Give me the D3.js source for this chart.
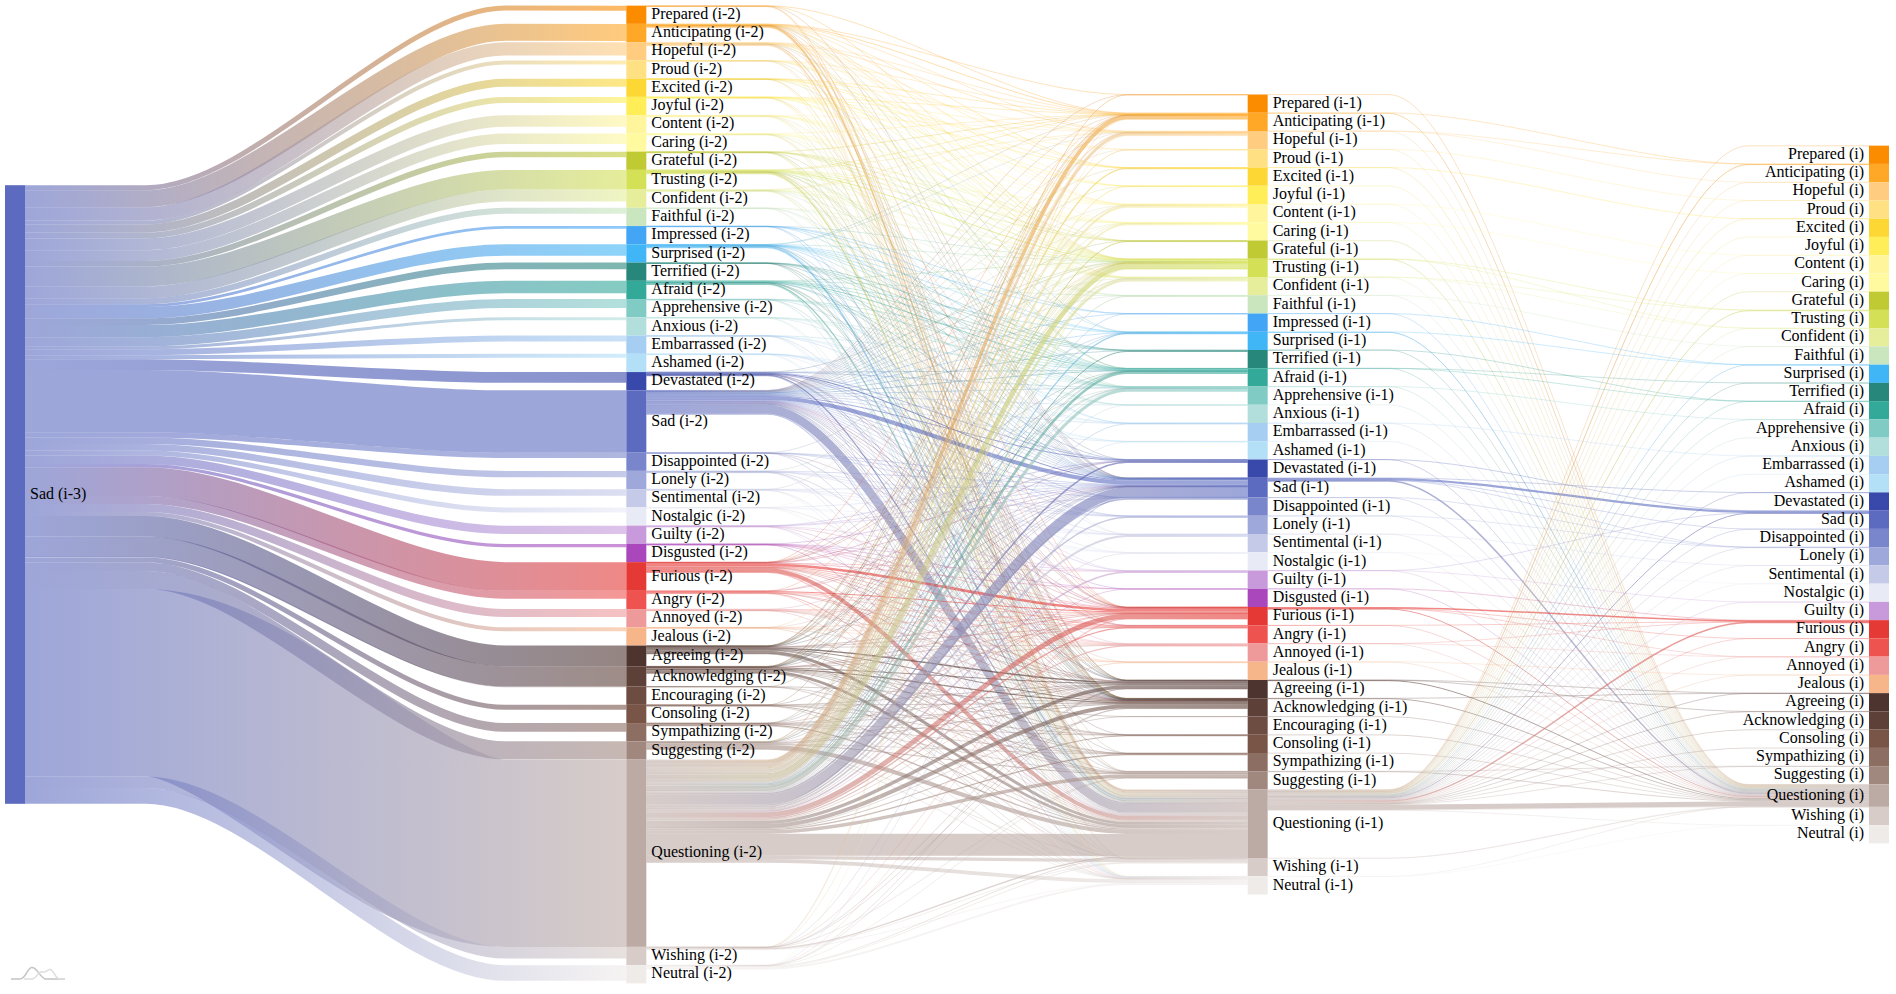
<!DOCTYPE html>
<html><head><meta charset="utf-8">
<script src="https://cdn.jsdelivr.net/npm/d3@7"></script>
<style>html,body{margin:0;padding:0;background:#fff}svg{display:block}text{font-family:"Liberation Serif","Times New Roman",serif;font-size:16px;fill:#000}</style>
</head><body><svg id="c" width="1896" height="994"></svg>
<script>
const codes = ["Pre","Ant","Hop","Pro","Exc","Joy","Cnt","Car","Gra","Tru","Cnf","Fai","Imp","Sur","Ter","Afr","App","Anx","Emb","Ash","Dev","Sad","Dis","Lon","Sen","Nos","Gui","Dsg","Fur","Ang","Ann","Jea","Agr","Ack","Enc","Cns","Sym","Sug","Que","Wis","Neu"];
const emotions = ["Prepared","Anticipating","Hopeful","Proud","Excited","Joyful","Content","Caring","Grateful","Trusting","Confident","Faithful","Impressed","Surprised","Terrified","Afraid","Apprehensive","Anxious","Embarrassed","Ashamed","Devastated","Sad","Disappointed","Lonely","Sentimental","Nostalgic","Guilty","Disgusted","Furious","Angry","Annoyed","Jealous","Agreeing","Acknowledging","Encouraging","Consoling","Sympathizing","Suggesting","Questioning","Wishing","Neutral"];
const colors = ["#FB8C00","#FFA726","#FFCC80","#FFE082","#FDD835","#FFEE58","#FFF59D","#FFF9A0","#C0CA33","#D4E157","#E6EE9C","#C9E6BE","#42A5F5","#40B6F7","#26877A","#33A99A","#80CBC4","#B2DFDB","#A5CEF2","#B3E0F7","#3949AB","#5C6BC0","#7986CB","#9FA8DA","#C5CAE9","#E8EAF6","#C89ADB","#AB47BC","#E53935","#EF5350","#EF9A9A","#F7B68A","#4E342E","#5D4037","#6D4C41","#795548","#8D6E63","#A1887F","#BCAAA4","#D7CCC8","#EFEBE9"];
const columnNames = ["i-3","i-2","i-1","i"];
const missingLast = ["Imp","Enc","Dsg"];

// Sad (i-3) -> each emotion (i-2), same order as codes
const firstValues = [5,17,13.3,4,8,6,11.7,10.7,5.7,19.7,12,6,2.7,11.3,6.7,12.3,9,3,6,4,10.7,62.3,5.3,6.3,6.7,5,8.3,3.3,28.7,8,8,4,20.7,20.3,0.5,5,8.7,18,187.3,11.7,15.7];

// (i-2) -> (i-1)
const midPre={Ant:.3,Tru:.1,Sad:.1,Que:.4,Wis:.1};
const midAnt={Pre:.1,Ant:.6,Hop:.15,Exc:.1,Cnt:.1,Tru:.2,Cnf:.15,Sur:.1,Afr:.1,Sad:.1,Fur:.1,Agr:.1,Ack:.1,Sug:.1,Que:1.4,Neu:.1};
const midHop={Ant:.35,Hop:.7,Exc:.1,Joy:.1,Cnt:.1,Car:.1,Tru:.15,Cnf:.15,Afr:.1,App:.1,Sad:.1,Agr:.1,Ack:.1,Que:1.1,Wis:.1,Neu:.1};
const midPro={Ant:.1,Pro:.15,Cnt:.1,Gra:.1,Tru:.1,Sad:.1,Ack:.1,Que:.4};
const midExc={Ant:.1,Hop:.1,Exc:.15,Joy:.1,Tru:.15,Sur:.1,Ack:.1,Que:.3};
const midJoy={Ant:.1,Hop:.1,Pro:.1,Exc:.1,Joy:.2,Cnt:.1,Tru:.1,Cnf:.1,Fur:.1,Ack:.1,Que:.5};
const midCnt={Hop:.1,Cnt:.3,Car:.1,Gra:.1,Tru:.2,Cnf:.1,Sad:.1,Nos:.1,Agr:.1,Que:.6,Neu:.1};
const midCar={Ant:.1,Cnt:.1,Car:.35,Tru:.2,Cnf:.1,App:.1,Sad:.1,Sen:.1,Ack:.1,Sym:.1,Que:.6};
const midGra={Ant:.1,Car:.1,Gra:.2,Tru:.2,Cnf:.1,Sad:.1,Ack:.1,Que:.4,Neu:.1};
const midTru={Ant:.15,Hop:.1,Cnt:.1,Car:.1,Gra:.1,Tru:.9,Cnf:.15,Fai:.15,Afr:.1,App:.1,Dev:.1,Sad:.1,Fur:.1,Agr:.15,Ack:.15,Sug:.1,Que:1.5,Neu:.1};
const midCnf={Ant:.1,Hop:.1,Car:.1,Tru:.25,Cnf:.35,Fai:.1,Afr:.1,Sad:.1,Ack:.1,Que:.8,Neu:.1};
const midFai={Tru:.15,Fai:.15,Sad:.1,Sen:.1,Que:.3,Neu:.05};
const midImp={Tru:.1,Imp:.1,Sur:.15,Afr:.1,Emb:.05,Ack:.1,Que:.3};
const midSur={Ant:.1,Hop:.1,Tru:.1,Imp:.1,Sur:.45,Ter:.1,Afr:.3,App:.1,Emb:.1,Sad:.1,Fur:.1,Agr:.1,Ack:.1,Sug:.1,Que:1.7,Neu:.1};
const midTer={Ter:.2,Afr:.25,App:.1,Anx:.05,Sad:.1,Fur:.05,Ack:.05,Que:.35};
const midAfr={Tru:.1,Fai:.1,Sur:.1,Ter:.3,Afr:.75,App:.25,Anx:.1,Dev:.1,Sad:.1,Fur:.1,Ang:.1,Agr:.1,Ack:.1,Que:1.3,Wis:.05,Neu:.1};
const midApp={Ter:.1,Afr:.25,App:.25,Sad:.1,Ack:.05,Que:.5};
const midAnx={Afr:.1,App:.2,Anx:.1,Sad:.1,Que:.3,Neu:.05};
const midEmb={Afr:.05,Emb:.15,Ash:.1,Sad:.1,Ack:.05,Que:.3,Neu:.05};
const midAsh={Emb:.1,Ash:.15,Dev:.05,Sad:.15,Gui:.1,Que:.3,Neu:.05};
const midDev={Tru:.1,Afr:.1,App:.1,Dev:.5,Sad:1,Dis:.15,Lon:.1,Fur:.15,Ang:.1,Agr:.15,Ack:.15,Que:1.2,Neu:.1};
const midSad={Pre:.1,Ant:.3,Hop:.3,Pro:.1,Exc:.1,Joy:.1,Cnt:.25,Car:.2,Gra:.1,Tru:.6,Cnf:.3,Fai:.2,Imp:.1,Sur:.3,Ter:.3,Afr:.6,App:.5,Anx:.1,Emb:.2,Ash:.2,Dev:.8,Sad:4,Dis:.35,Lon:.3,Sen:.35,Nos:.25,Gui:.35,Dsg:.1,Fur:.6,Ang:.3,Ann:.3,Jea:.15,Agr:.5,Ack:.5,Cns:.1,Sym:.2,Sug:.45,Que:8.5,Wis:.4,Neu:.9};
const midDis={Tru:.05,Sad:.25,Dis:.1,Lon:.05,Fur:.05,Ack:.05,Que:.35};
const midLon={Tru:.1,Sad:.5,Lon:.25,Sen:.1,Nos:.05,Ack:.1,Que:.7,Neu:.1};
const midSen={Cnt:.1,Car:.1,Sad:.2,Lon:.1,Sen:.25,Nos:.15,Que:.5,Neu:.1};
const midNos={Car:.05,Sad:.1,Sen:.1,Nos:.2,Ack:.05,Que:.4,Neu:.1};
const midGui={Dev:.1,Sad:.25,Dis:.1,Gui:.3,Fur:.05,Ack:.05,Que:.6,Neu:.05};
const midDsg={Sad:.1,Gui:.1,Dsg:.1,Fur:.35,Ang:.1,Ann:.1,Ack:.05,Que:.6};
const midFur={Ant:.1,Tru:.1,Sur:.1,Afr:.1,App:.1,Dev:.25,Sad:.3,Gui:.1,Dsg:.1,Fur:2.6,Ang:.65,Ann:.5,Jea:.15,Agr:.4,Ack:.35,Sug:.25,Que:4,Wis:.05,Neu:.1};
const midAng={Tru:.05,Dev:.05,Sad:.1,Fur:1,Ang:.4,Ann:.25,Agr:.1,Ack:.1,Que:.7,Neu:.1};
const midAnn={Sad:.1,Fur:.5,Ang:.2,Ann:.35,Jea:.1,Agr:.1,Ack:.1,Que:.6};
const midJea={Tru:.05,Sad:.1,Fur:.15,Ann:.1,Jea:.25,Ack:.05,Que:.7};
const midAgr={Ant:.15,Hop:.1,Cnt:.1,Car:.1,Tru:.35,Cnf:.2,Afr:.1,App:.1,Sad:.15,Fur:.25,Ang:.1,Ann:.1,Agr:1.5,Ack:.9,Cns:.1,Sym:.2,Sug:.6,Que:3,Wis:.1,Neu:.1};
const midAck={Ant:.1,Hop:.1,Cnt:.1,Tru:.3,Cnf:.15,Sur:.05,Afr:.1,App:.05,Sad:.15,Fur:.2,Ang:.05,Ann:.05,Agr:.9,Ack:1.1,Enc:.05,Cns:.1,Sym:.1,Sug:.55,Que:2.7,Wis:.05,Neu:.1};
const midEnc={Tru:.05,Ack:.1,Sug:.05,Que:.25};
const midCns={Ant:.05,Sad:.1,Agr:.1,Ack:.15,Cns:.2,Sym:.1,Que:.75,Neu:.05};
const midSym={Tru:.1,Afr:.05,Sad:.1,Fur:.1,Agr:.3,Ack:.3,Cns:.1,Sym:.3,Sug:.2,Que:1.3,Neu:.1};
const midSug={Ant:.2,Hop:.15,Tru:.35,Cnf:.2,Afr:.1,App:.1,Sad:.2,Fur:.25,Agr:.5,Ack:.6,Sym:.1,Sug:.85,Que:4.2,Wis:.1,Neu:.1};
const midQue={Pre:.6,Ant:3.5,Hop:2.5,Pro:1,Exc:1.2,Joy:.8,Cnt:2.2,Car:1.8,Gra:1,Tru:5,Cnf:2.5,Fai:1,Imp:.5,Sur:1.2,Ter:1,Afr:2.5,App:3,Anx:.5,Emb:.8,Ash:.6,Dev:1.5,Sad:10,Dis:1.5,Lon:1.5,Sen:2,Nos:1,Gui:1.5,Dsg:.4,Fur:5,Ang:1.3,Ann:1.2,Jea:.7,Agr:3.5,Ack:4,Enc:.3,Cns:.8,Sym:1.2,Sug:3.5,Que:22,Wis:3.2,Neu:3.8};
const midWis={Ant:.1,Hop:.1,Tru:.1,Sad:.1,Fur:.1,Agr:.1,Ack:.1,Sug:.15,Que:1.3,Wis:.5,Neu:.2};
const midNeu={Tru:.05,Sad:.2,Fur:.1,Agr:.15,Ack:.2,Sug:.2,Que:.8,Wis:.8,Neu:1.8};
const midRows=[midPre,midAnt,midHop,midPro,midExc,midJoy,midCnt,midCar,midGra,midTru,midCnf,midFai,midImp,midSur,midTer,midAfr,midApp,midAnx,midEmb,midAsh,midDev,midSad,midDis,midLon,midSen,midNos,midGui,midDsg,midFur,midAng,midAnn,midJea,midAgr,midAck,midEnc,midCns,midSym,midSug,midQue,midWis,midNeu];

// (i-1) -> (i)
const endPre={Que:.2};
const endAnt={Ant:.2,Que:.7};
const endHop={Ant:.05,Hop:.1,Que:.4};
const endPro={Pro:.05,Que:.3};
const endExc={Exc:.05,Que:.3};
const endJoy={Que:.3};
const endCnt={Cnt:.1,Que:.35};
const endCar={Car:.05,Que:.35};
const endGra={Que:.35};
const endTru={Tru:.3,Cnf:.05,Que:.7};
const endCnf={Tru:.1,Cnf:.1,Que:.35};
const endFai={Fai:.05,Que:.35};
const endImp={Sur:.05,Que:.3};
const endSur={Sur:.2,Que:.9};
const endTer={Afr:.05,Que:.3};
const endAfr={Ter:.05,Afr:.15,Que:.4};
const endApp={App:.1,Que:.35};
const endAnx={Que:.3};
const endEmb={Emb:.05,Que:.3};
const endAsh={Que:.3};
const endDev={Sad:.05,Que:.3};
const endSad={Dev:.2,Sad:2.2,Dis:.1,Lon:.1,Que:1.5};
const endDis={Lon:.05,Que:.3};
const endLon={Lon:.1,Que:.45};
const endSen={Sen:.05,Que:.3};
const endNos={Nos:.05,Que:.3};
const endGui={Sad:.05,Gui:.1,Que:.4};
const endDsg={Fur:.05,Que:.3};
const endFur={Fur:1.5,Ang:.1,Ann:.1,Que:.9};
const endAng={Fur:.1,Que:.35};
const endAnn={Fur:.05,Ann:.1,Que:.35};
const endJea={Jea:.1,Que:.4};
const endAgr={Agr:.1,Ack:.05,Que:1};
const endAck={Agr:.05,Que:.8};
const endEnc={Que:.25};
const endCns={Que:.25};
const endSym={Que:.3};
const endSug={Sug:.1,Que:.7};
const endQue={Pre:.3,Ant:.9,Hop:.5,Pro:.2,Exc:.2,Joy:.2,Cnt:.4,Car:.4,Gra:.2,Tru:.9,Cnf:.5,Fai:.4,Sur:.6,Ter:.3,Afr:.4,App:.5,Anx:.2,Emb:.2,Ash:.2,Dev:.3,Sad:1,Dis:.5,Lon:.5,Sen:.3,Nos:.3,Gui:.4,Fur:1.5,Ang:.3,Ann:.4,Jea:.3,Agr:.5,Ack:.5,Cns:.2,Sym:.3,Sug:.4,Que:5,Wis:.25,Neu:.3};
const endWis={Que:.25,Wis:.1};
const endNeu={Que:.25,Neu:.1};
const endRows=[endPre,endAnt,endHop,endPro,endExc,endJoy,endCnt,endCar,endGra,endTru,endCnf,endFai,endImp,endSur,endTer,endAfr,endApp,endAnx,endEmb,endAsh,endDev,endSad,endDis,endLon,endSen,endNos,endGui,endDsg,endFur,endAng,endAnn,endJea,endAgr,endAck,endEnc,endCns,endSym,endSug,endQue,endWis,endNeu];

const NODE_W=20,MIN_H=18.25,STUB=121,CY=494.5,PULL=.3;
const svg=d3.select("#c"),defs=svg.append("defs");
const xCol=d3.scalePoint().domain(columnNames).range([5,1869]);
const thick=d3.scaleLinear().domain([0,100]).range([0,100]);
const colorOf=d3.scaleOrdinal().domain(codes).range(colors);
const nameOf=d3.scaleOrdinal().domain(codes).range(emotions);

// link tables
const links=[];
codes.forEach((t,i)=>links.push({c:0,s:"Sad",t,v:firstValues[i]}));
const addRows=(rows,c)=>rows.forEach((row,i)=>codes.forEach(t=>{if(row[t]&&!(c===2&&missingLast.includes(t)))links.push({c,s:codes[i],t,v:row[t]});}));
addRows(midRows,1);addRows(endRows,2);

// nodes per column
const nodes=columnNames.map((name,c)=>{
  const list=(c===0?["Sad"]:c===3?codes.filter(k=>!missingLast.includes(k)):codes).map(k=>{
    const inn=d3.sum(links.filter(l=>l.c===c-1&&l.t===k),l=>thick(l.v));
    const out=d3.sum(links.filter(l=>l.c===c&&l.s===k),l=>thick(l.v));
    return {k,c,inn,out,h:Math.max(MIN_H,inn,out)};
  });
  const total=d3.sum(list,n=>n.h);let y=CY-total/2;
  list.forEach(n=>{n.y=y;y+=n.h;n.x=xCol(name);});
  return list;
});
const order=k=>codes.indexOf(k);

// stack the links on each node
nodes.flat().forEach(n=>{
  let y=n.y;
  links.filter(l=>l.c===n.c&&l.s===n.k).sort((a,b)=>order(a.t)-order(b.t)).forEach(l=>{const w=thick(l.v);l.y0=y+w/2;y+=w;});
  y=n.y;
  links.filter(l=>l.c===n.c-1&&l.t===n.k).sort((a,b)=>order(a.s)-order(b.s)).forEach(l=>{const w=thick(l.v);l.y1=y+w/2;y+=w;});
});

const linkPath=l=>{
  const x0=xCol(columnNames[l.c])+NODE_W,x1=xCol(columnNames[l.c+1]);
  const a=x0+STUB,b=x1-STUB,d=(b-a)*PULL,p=d3.path();
  p.moveTo(x0,l.y0);p.lineTo(a,l.y0);p.bezierCurveTo(a+d,l.y0,b-d,l.y1,b,l.y1);p.lineTo(x1,l.y1);
  return p.toString();
};
links.forEach((l,i)=>{
  const g=defs.append("linearGradient").attr("id","g"+i).attr("gradientUnits","userSpaceOnUse")
    .attr("x1",xCol(columnNames[l.c])+NODE_W).attr("x2",xCol(columnNames[l.c+1])).attr("y1",0).attr("y2",0);
  g.append("stop").attr("offset","0%").attr("stop-color",colorOf(l.s));
  g.append("stop").attr("offset","100%").attr("stop-color",colorOf(l.t));
});
svg.append("g").attr("fill","none").attr("stroke-opacity",.6)
  .selectAll("path").data(links).join("path")
  .attr("d",linkPath).attr("stroke",(l,i)=>`url(#g${i})`).attr("stroke-width",l=>Math.max(.45,thick(l.v)));

svg.append("g").selectAll("rect").data(nodes.flat()).join("rect")
  .attr("x",n=>n.x).attr("y",n=>n.y).attr("width",NODE_W).attr("height",n=>n.h).attr("fill",n=>colorOf(n.k));

svg.append("g").selectAll("text").data(nodes.flat()).join("text")
  .attr("x",n=>n.c===3?n.x-5:n.x+NODE_W+5).attr("y",n=>n.y+n.h/2).attr("dy","0.26em")
  .attr("text-anchor",n=>n.c===3?"end":"start")
  .text(n=>`${nameOf(n.k)} (${columnNames[n.c]})`);

// small sketch mark, lower left
const bumps=svg.append("g").attr("fill","none").attr("stroke-width",1.5);
bumps.append("path").attr("stroke","#c4c4c4").attr("d","M11 979H20C26 979 27 967.5 32 967.5C37 967.5 39 976 45 979H65");
bumps.append("path").attr("stroke","#dedede").attr("d","M24 979H32C37 979 38 970 43 972C46 973 47 969.5 50 969.5C54 969.5 55 979 60 979H65");
</script></body></html>
